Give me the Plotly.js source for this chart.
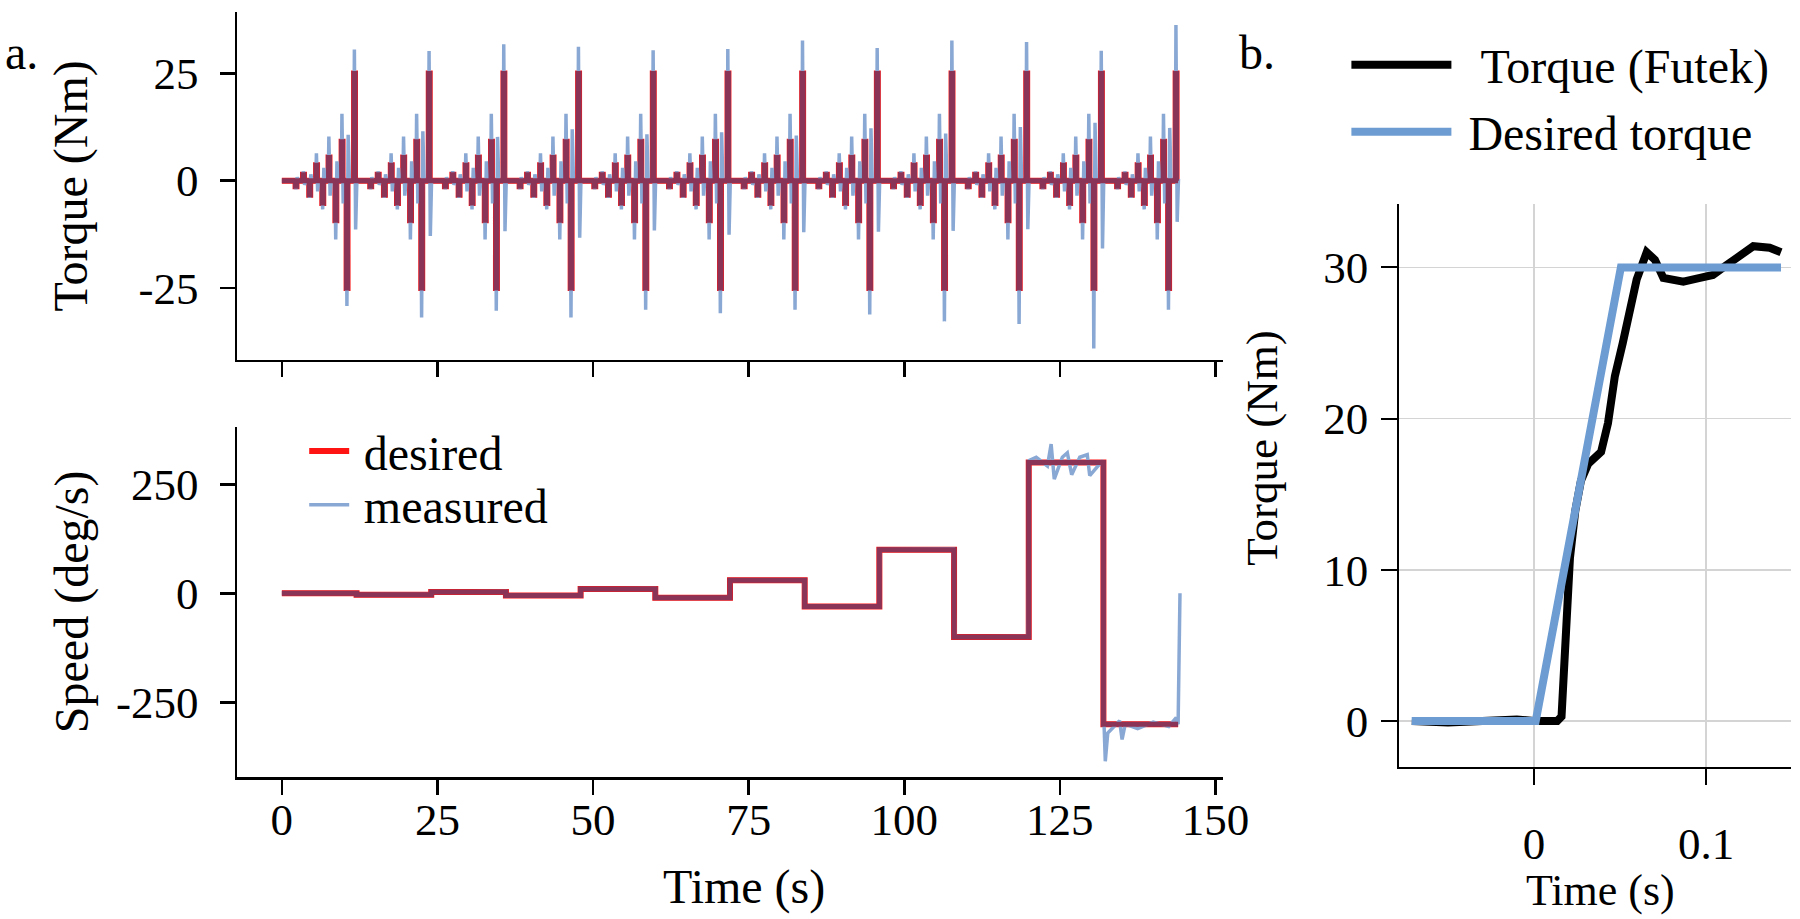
<!DOCTYPE html>
<html>
<head>
<meta charset="utf-8">
<script src="https://cdn.plot.ly/plotly-3.0.1.min.js"></script>
<style>
  html, body { margin: 0; padding: 0; background: #fff; }
  #chart { width: 1800px; height: 919px; }
</style>
</head>
<body>
<div id="chart"></div>
<script>
// --- panel a, torque: pulse train repeated every 12 s ---
var cycleStart = [0, 12, 24, 36, 48, 60, 72, 84, 96, 108, 120, 132];
var pulseOffset = [2.2, 3.4, 4.4, 5.5, 6.5, 7.5, 8.6, 9.6, 10.4, 11.6];
var pulseAmp = [-1.3, 1.4, -3.3, 3.6, -5.2, 5.4, -9.2, 9.1, -25, 25];

// measured torque around the small pulses (peak, then rebound)
var smallPeak = [-2.0, 2.2, -4.0, 6.4, -6.7, 10.3, -13.7, 15.6];
var smallRebound = [0.8, -1.0, 1.5, -2.5, 3.0, -3.5, 4.5, -5.3];

// measured torque around the -25 / +25 Nm pulses, one value per cycle
var negPeak = [-29.2, -31.9, -30.3, -31.9, -30.1, -30.9, -30.1, -31.2, -32.8, -33.4, -39.1, -30.1];
var negRebound = [10.7, 11.5, 10.2, 12.0, 10.8, 11.3, 10.5, 12.2, 11.0, 12.5, 13.5, 12.3];
var posPeak = [30.6, 30.2, 31.8, 31.2, 30.4, 30.7, 32.7, 30.9, 32.7, 32.3, 30.3, 36.3];
var posRebound = [-11.4, -12.9, -11.8, -13.3, -11.6, -12.6, -12.0, -11.9, -11.7, -11.3, -15.8, -9.6];

// --- panel a, speed ---
var segStart = [0, 12, 24, 36, 48, 60, 72, 84, 96, 108, 120, 132, 144];
var segSpeed = [0, -3, 3, -5, 10, -10, 30, -30, 100, -100, 300, -300, -300];

var measSpeedT = [0, 11.9, 12.1, 23.9, 24.1, 35.9, 36.1, 47.9, 48.1, 59.9, 60.1, 71.9, 72.1, 83.9, 84.1,
  95.9, 96.1, 107.9, 108.1, 119.9, 120.1, 121.2, 123.0, 123.6, 124.1, 125.4, 126.2, 126.9, 128.2,
  129.4, 129.8, 131.9, 132.1, 132.3, 132.7, 134.6, 135.0, 135.5, 137.5, 140.0, 142.5, 143.7, 144.0, 144.3];
var measSpeedV = [0, 1, -3, -2, 3, 4, -5, -4, 10, 11, -10, -11, 30, 31, -30,
  -30, 100, 102, -100, -99, 305, 312, 292, 342, 262, 312, 322, 272, 312,
  318, 270, 305, -300, -385, -320, -292, -335, -300, -310, -295, -305, -285, -300, 0];

// --- panel b, torque step ---
var futekT = [-0.071, -0.05, -0.03, -0.01, 0.0, 0.008, 0.0135, 0.016, 0.0185, 0.0209, 0.024, 0.0273,
  0.0315, 0.036, 0.039, 0.043, 0.047, 0.0516, 0.0597, 0.0655, 0.0703, 0.0752, 0.0868, 0.0965,
  0.104, 0.112, 0.120, 0.1275, 0.137, 0.1436];
var futekV = [0, -0.1, 0, 0.1, 0, 0, 0, 0.3, 5.0, 10.8, 13.9, 15.9,
  17.0, 17.5, 17.8, 19.7, 22.8, 25.0, 29.2, 31.0, 30.5, 29.3, 29.05, 29.3,
  29.5, 30.15, 30.8, 31.4, 31.3, 31.0];
var refT = [-0.0711, 0.001, 0.0505, 0.1436];
var refV = [0, 0, 30, 30];

// build the desired pulse train and the measured response
var desT = [0], desV = [0];
var meaT = [0], meaV = [0];
cycleStart.forEach(function (c, k) {
  pulseOffset.forEach(function (o, i) {
    var t = c + o;
    desT.push(t, t, t + 0.15, t + 0.15);
    desV.push(0, pulseAmp[i], pulseAmp[i], 0);
    var pk = i < 8 ? smallPeak[i] : (i === 8 ? negPeak[k] : posPeak[k]);
    var rb = i < 8 ? smallRebound[i] : (i === 8 ? negRebound[k] : posRebound[k]);
    meaT.push(t - 0.05, t + 0.05, t + 0.25, t + 0.45);
    meaV.push(0, pk, rb, 0);
  });
});
desT.push(144); desV.push(0);
meaT.push(144); meaV.push(0);

var RED = "rgb(255,20,20)";
var BLUE = "rgb(138,168,212)";
var MAROON = "rgb(138,52,88)";
var FONT = "Liberation Serif, Times New Roman, serif";

var data = [
  {x: desT, y: desV, xaxis: "x", yaxis: "y", mode: "lines", line: {color: RED, width: 6}, showlegend: false},
  {x: meaT, y: meaV, xaxis: "x", yaxis: "y", mode: "lines", line: {color: BLUE, width: 3.5}, showlegend: false},
  {x: desT, y: desV, xaxis: "x", yaxis: "y", mode: "lines", line: {color: MAROON, width: 5}, showlegend: false},

  {x: segStart, y: segSpeed, xaxis: "x2", yaxis: "y2", mode: "lines", line: {color: RED, width: 6, shape: "hv"},
    name: "\u2009desired", legend: "legend"},
  {x: measSpeedT, y: measSpeedV, xaxis: "x2", yaxis: "y2", mode: "lines", line: {color: BLUE, width: 3.5},
    name: "\u2009measured", legend: "legend3"},
  {x: segStart, y: segSpeed, xaxis: "x2", yaxis: "y2", mode: "lines", line: {color: MAROON, width: 5, shape: "hv"},
    showlegend: false},

  {x: futekT, y: futekV, xaxis: "x3", yaxis: "y3", mode: "lines", line: {color: "#000", width: 8},
    name: "\u00a0\u00a0Torque (Futek)", legend: "legend2"},
  {x: refT, y: refV, xaxis: "x3", yaxis: "y3", mode: "lines", line: {color: "rgb(108,156,210)", width: 8},
    name: "\u00a0Desired torque", legend: "legend4"}
];

function axis(extra) {
  var a = {
    showline: true, linecolor: "#000", linewidth: 2.5,
    ticks: "outside", ticklen: 15, tickwidth: 2.5, tickcolor: "#000",
    showgrid: false, zeroline: false, ticklabelstandoff: 12,
    tickfont: {family: FONT, size: 45, color: "#000"}
  };
  return Object.assign(a, extra);
}

var tickX = [0, 25, 50, 75, 100, 125, 150];
var legFont = {family: FONT, size: 48, color: "#000"};
var titleFont = {family: FONT, size: 48, color: "#000"};

var layout = {
  width: 1800, height: 919,
  margin: {l: 0, r: 0, t: 0, b: 0},
  paper_bgcolor: "#fff", plot_bgcolor: "#fff",
  font: {family: FONT, color: "#000"},
  xaxis: axis({domain: [0.1317, 0.6794], anchor: "y", range: [-7.2, 151.2], tickvals: tickX, showticklabels: false}),
  yaxis: axis({domain: [0.6083, 0.9873], anchor: "x", range: [-41.8, 39.4], tickvals: [-25, 0, 25],
    ticktext: ["-25", "0", "25"], title: {text: "Torque (Nm)", font: titleFont, standoff: 36}}),
  xaxis2: axis({domain: [0.1317, 0.6794], anchor: "y2", range: [-7.2, 151.2], tickvals: tickX,
    ticktext: tickX.map(String), ticklabelstandoff: -14}),
  yaxis2: axis({domain: [0.1545, 0.5357], anchor: "x2", range: [-421, 382], tickvals: [-250, 0, 250],
    ticktext: ["-250", "0", "250"], title: {text: "Speed (deg/s)", font: titleFont, standoff: 13}}),
  xaxis3: axis({domain: [0.7774, 0.995], anchor: "y3", range: [-0.0783, 0.1494], tickvals: [0, 0.1],
    ticktext: ["0", "0.1"], linewidth: 2, tickwidth: 2, ticklen: 16, ticklabelstandoff: 20,
    showgrid: true, gridcolor: "#d4d4d4", gridwidth: 1.5}),
  yaxis3: axis({domain: [0.1651, 0.778], anchor: "x3", range: [-3.06, 34.19], tickvals: [0, 10, 20, 30],
    ticktext: ["0", "10", "20", "30"], linewidth: 2, tickwidth: 2, ticklen: 16, ticklabelstandoff: 4,
    showgrid: true, gridcolor: "#d4d4d4", gridwidth: 1.5}),
  legend: {x: 0.169, y: 0.509, xanchor: "left", yanchor: "middle", font: legFont, itemwidth: 40,
    bgcolor: "rgba(0,0,0,0)"},
  legend3: {x: 0.169, y: 0.4505, xanchor: "left", yanchor: "middle", font: legFont, itemwidth: 40,
    bgcolor: "rgba(0,0,0,0)"},
  legend2: {x: 0.748, y: 0.9293, xanchor: "left", yanchor: "middle", font: legFont, itemwidth: 100,
    bgcolor: "rgba(0,0,0,0)"},
  legend4: {x: 0.748, y: 0.8564, xanchor: "left", yanchor: "middle", font: legFont, itemwidth: 100,
    bgcolor: "rgba(0,0,0,0)"},
  annotations: [
    {text: "a.", x: 0.0117, y: 0.9434, xref: "paper", yref: "paper", xanchor: "center", yanchor: "middle",
      showarrow: false, font: titleFont},
    {text: "b.", x: 0.6983, y: 0.9434, xref: "paper", yref: "paper", xanchor: "center", yanchor: "middle",
      showarrow: false, font: titleFont},
    {text: "Time (s)", x: 0.4133, y: 0.0348, xref: "paper", yref: "paper",
      xanchor: "center", yanchor: "middle", showarrow: false, font: titleFont},
    // panel b axis titles
    {text: "Torque (Nm)", x: 0.701, y: 0.5125, xref: "paper", yref: "paper", textangle: -90,
      xanchor: "center", yanchor: "middle", showarrow: false, font: {family: FONT, size: 45, color: "#000"}},
    {text: "Time (s)", x: 0.8894, y: 0.031, xref: "paper", yref: "paper",
      xanchor: "center", yanchor: "middle", showarrow: false, font: {family: FONT, size: 44, color: "#000"}}
  ]
};

Plotly.newPlot("chart", data, layout, {displayModeBar: false, staticPlot: true});
</script>
</body>
</html>
